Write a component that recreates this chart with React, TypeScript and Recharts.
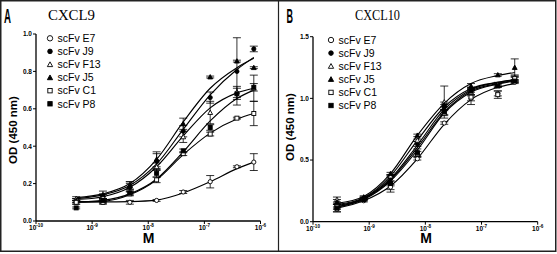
import React from 'react';
import { ComposedChart, Line, Scatter, XAxis, YAxis, ErrorBar } from 'recharts';

// ---------- shared ----------
const seriesKeys = ['E7', 'J9', 'F13', 'J5', 'C1', 'P8'];
const seriesNames = ['scFv E7', 'scFv J9', 'scFv F13', 'scFv J5', 'scFv C1', 'scFv P8'];
const markerKinds = ['circleOpen', 'circle', 'triOpen', 'tri', 'squareOpen', 'square'];
const xTicks = [1e-10, 1e-9, 1e-8, 1e-7, 1e-6];
const xTickExps = ['-10', '-9', '-8', '-7', '-6'];

// ---------- panel A : CXCL9 ----------
const concA = [5.2e-10, 1.56e-9, 4.7e-9, 1.41e-8, 4.2e-8, 1.27e-7, 3.8e-7, 7.6e-7];
const yTicksA = [0, 0.2, 0.4, 0.6, 0.8, 1.0];

const aE7 = [0.11, 0.1, 0.1, 0.11, 0.155, 0.21, 0.29, 0.315];
const aE7Err = [0.01, 0.005, 0.01, 0.005, 0.008, 0.033, 0.005, 0.045];
const aE7Fit = [0.105, 0.102, 0.104, 0.112, 0.15, 0.21, 0.28, 0.315];

const aJ9 = [0.1, 0.13, 0.18, 0.32, 0.48, 0.66, 0.8, 0.92];
const aJ9Err = [0.01, 0.015, 0.02, 0.04, 0.03, 0.03, 0.18, 0.015];
const aJ9Fit = [0.12, 0.14, 0.19, 0.305, 0.49, 0.675, 0.81, 0.875];

const aF13 = [0.12, 0.13, 0.19, 0.29, 0.45, 0.58, 0.69, 0.71];
const aF13Err = [0.01, 0.01, 0.02, 0.02, 0.03, 0.06, 0.03, 0.07];
const aF13Fit = [0.115, 0.13, 0.18, 0.29, 0.455, 0.605, 0.685, 0.71];

const aJ5 = [0.11, 0.14, 0.19, 0.33, 0.52, 0.77, 0.855, 0.82];
const aJ5Err = [0.01, 0.02, 0.02, 0.04, 0.03, 0.005, 0.005, 0.005];
const aJ5Fit = [0.125, 0.145, 0.2, 0.33, 0.53, 0.71, 0.82, 0.87];

const aC1 = [0.1, 0.1, 0.145, 0.22, 0.36, 0.465, 0.55, 0.575];
const aC1Err = [0.01, 0.01, 0.01, 0.015, 0.01, 0.01, 0.005, 0.065];
const aC1Fit = [0.1, 0.105, 0.14, 0.22, 0.355, 0.47, 0.545, 0.575];

const aP8 = [0.07, 0.11, 0.15, 0.255, 0.375, 0.5, 0.68, 0.715];
const aP8Err = [0.005, 0.01, 0.01, 0.02, 0.01, 0.015, 0.03, 0.02];
const aP8Fit = [0.1, 0.11, 0.145, 0.225, 0.37, 0.535, 0.655, 0.7];

// ---------- panel B : CXCL10 ----------
const concB = [2.67e-10, 8.0e-10, 2.4e-9, 7.2e-9, 2.17e-8, 6.5e-8, 1.95e-7, 3.9e-7];
const yTicksB = [0, 0.5, 1.0, 1.5];

const bE7 = [0.1, 0.17, 0.28, 0.51, 0.8, 1.0, 1.04, 1.13];
const bE7Err = [0.02, 0.01, 0.02, 0.01, 0.01, 0.02, 0.02, 0.01];
const bE7Fit = [0.11, 0.17, 0.29, 0.51, 0.79, 0.99, 1.09, 1.12];

const bJ9 = [0.13, 0.19, 0.35, 0.63, 0.93, 1.07, 1.11, 1.15];
const bJ9Err = [0.02, 0.01, 0.02, 0.02, 0.02, 0.02, 0.02, 0.02];
const bJ9Fit = [0.13, 0.19, 0.35, 0.62, 0.91, 1.07, 1.13, 1.15];

const bF13 = [0.18, 0.19, 0.37, 0.66, 0.97, 1.05, 1.11, 1.17];
const bF13Err = [0.02, 0.01, 0.01, 0.01, 0.13, 0.02, 0.01, 0.02];
const bF13Fit = [0.14, 0.195, 0.37, 0.66, 0.93, 1.08, 1.13, 1.15];

const bJ5 = [0.16, 0.2, 0.39, 0.7, 0.95, 1.1, 1.19, 1.25];
const bJ5Err = [0.02, 0.01, 0.01, 0.01, 0.02, 0.02, 0.01, 0.07];
const bJ5Fit = [0.15, 0.205, 0.39, 0.7, 0.96, 1.12, 1.185, 1.21];

const bC1 = [0.12, 0.18, 0.31, 0.55, 0.88, 1.01, 1.03, 1.16];
const bC1Err = [0.02, 0.01, 0.07, 0.02, 0.02, 0.06, 0.03, 0.02];
const bC1Fit = [0.12, 0.18, 0.33, 0.58, 0.88, 1.05, 1.115, 1.14];

const bP8 = [0.11, 0.18, 0.31, 0.56, 0.89, 1.06, 1.1, 1.14];
const bP8Err = [0.03, 0.01, 0.02, 0.03, 0.02, 0.03, 0.01, 0.01];
const bP8Fit = [0.12, 0.185, 0.34, 0.6, 0.89, 1.06, 1.12, 1.145];

const buildRows = (conc: number[], pts: number[][], errs: number[][], fits: number[][]) =>
  conc.map((x, i) => {
    const r: any = { x };
    seriesKeys.forEach((k, j) => {
      r[k] = pts[j][i];
      r[k + '_err'] = errs[j][i];
      r[k + '_fit'] = fits[j][i];
    });
    return r;
  });

const rowsA = buildRows(
  concA,
  [aE7, aJ9, aF13, aJ5, aC1, aP8],
  [aE7Err, aJ9Err, aF13Err, aJ5Err, aC1Err, aP8Err],
  [aE7Fit, aJ9Fit, aF13Fit, aJ5Fit, aC1Fit, aP8Fit]
);
const rowsB = buildRows(
  concB,
  [bE7, bJ9, bF13, bJ5, bC1, bP8],
  [bE7Err, bJ9Err, bF13Err, bJ5Err, bC1Err, bP8Err],
  [bE7Fit, bJ9Fit, bF13Fit, bJ5Fit, bC1Fit, bP8Fit]
);

const SANS = '"Liberation Sans", Arial, Helvetica, sans-serif';
const SERIF = '"Liberation Serif", "Times New Roman", serif';

function Marker({ kind, cx, cy, s = 2.1 }: { kind: string; cx: number; cy: number; s?: number }) {
  if (cx == null || cy == null || isNaN(cx) || isNaN(cy)) return null;
  const open = kind.endsWith('Open');
  const fill = open ? '#fff' : '#000';
  const common = { fill, stroke: '#000', strokeWidth: 0.9 };
  if (kind.startsWith('circle')) return <circle cx={cx} cy={cy} r={s} {...common} />;
  if (kind.startsWith('tri')) {
    const h = s * 1.15;
    const pts = `${cx},${cy - h} ${cx - h},${cy + h * 0.8} ${cx + h},${cy + h * 0.8}`;
    return <polygon points={pts} {...common} />;
  }
  const q = s * 0.95;
  return <rect x={cx - q} y={cy - q} width={2 * q} height={2 * q} {...common} />;
}

function XTick(props: any) {
  const { x, y, payload } = props;
  const idx = xTicks.findIndex((t) => Math.abs(Math.log10(t) - Math.log10(payload.value)) < 1e-6);
  return (
    <text x={x} y={y + 5.8} textAnchor="middle" fontSize={6.5} fontWeight="bold" fill="#000" fontFamily={SANS}>
      <tspan>10</tspan>
      <tspan dy={-2.6} fontSize={4.6}>{idx >= 0 ? xTickExps[idx] : ''}</tspan>
    </text>
  );
}

function Panel({ rows, yTicks, yDomain, margin, width }: any) {
  return (
    <ComposedChart width={width} height={254} margin={margin} data={rows}>
      <XAxis
        dataKey="x"
        type="number"
        scale="log"
        domain={[1e-10, 1e-6]}
        ticks={xTicks}
        allowDataOverflow
        interval={0}
        height={20}
        tick={<XTick />}
        tickSize={3}
        tickMargin={0}
        axisLine={{ stroke: '#000', strokeWidth: 1.3 }}
        tickLine={{ stroke: '#000', strokeWidth: 1 }}
      />
      <YAxis
        type="number"
        domain={yDomain}
        ticks={yTicks}
        allowDataOverflow
        interval={0}
        width={30}
        tickSize={3}
        tickMargin={1}
        tickFormatter={(v: number) => v.toFixed(1)}
        tick={{ fontSize: 6.5, fontWeight: 'bold', fill: '#000', fontFamily: SANS }}
        axisLine={{ stroke: '#000', strokeWidth: 1.3 }}
        tickLine={{ stroke: '#000', strokeWidth: 1 }}
      />
      {seriesKeys.map((k) => (
        <Line
          key={'l' + k}
          data={rows}
          dataKey={k + '_fit'}
          type="monotone"
          stroke="#000"
          strokeWidth={1.15}
          dot={false}
          activeDot={false}
          isAnimationActive={false}
        />
      ))}
      {seriesKeys.map((k, j) => (
        <Scatter
          key={'s' + k}
          data={rows}
          dataKey={k}
          isAnimationActive={false}
          shape={(p: any) => <Marker kind={markerKinds[j]} cx={p.cx} cy={p.cy} />}
        >
          <ErrorBar dataKey={k + '_err'} direction="y" width={4} stroke="#000" strokeWidth={0.8} />
        </Scatter>
      ))}
    </ComposedChart>
  );
}

function LegendBlock({ x, y, step }: { x: number; y: number; step: number }) {
  return (
    <g>
      {seriesNames.map((n, i) => (
        <g key={n}>
          <Marker kind={markerKinds[i]} cx={x} cy={y + i * step} s={i === 0 ? 2.7 : 2.3} />
          <text x={x + 7.5} y={y + i * step + 3.7} fontSize={10.5} fill="#000" fontFamily={SANS}>
            {n}
          </text>
        </g>
      ))}
    </g>
  );
}

export default function App() {
  return (
    <div style={{ position: 'absolute', left: 0, top: 0, width: 557, height: 254, background: '#fff' }}>
      <div style={{ position: 'absolute', left: 0, top: 0 }}>
        <Panel rows={rowsA} yTicks={yTicksA} yDomain={[0, 1]} width={278} margin={{ top: 34, right: 17.5, bottom: 13, left: 6 }} />
      </div>
      <div style={{ position: 'absolute', left: 278, top: 0 }}>
        <Panel rows={rowsB} yTicks={yTicksB} yDomain={[0, 1.5]} width={279} margin={{ top: 36.7, right: 19.3, bottom: 12.3, left: 5 }} />
      </div>
      <svg width={557} height={254} style={{ position: 'absolute', left: 0, top: 0, pointerEvents: 'none' }}>
        <rect x={0.75} y={0.75} width={555} height={250.5} fill="none" stroke="#222" strokeWidth={1.5} />
        <line x1={278.5} y1={0} x2={278.5} y2={252} stroke="#222" strokeWidth={1.2} />
        <text x={4} y={23.3} fontSize={19.5} fontWeight="bold" fontFamily={SANS} textLength={7} lengthAdjust="spacingAndGlyphs">A</text>
        <text x={286.5} y={23.3} fontSize={19.5} fontWeight="bold" fontFamily={SANS} textLength={6.5} lengthAdjust="spacingAndGlyphs">B</text>
        <text x={48} y={20} fontSize={15.5} fontFamily={SERIF} textLength={47} lengthAdjust="spacingAndGlyphs">CXCL9</text>
        <text x={355} y={20} fontSize={15.5} fontFamily={SERIF} textLength={45} lengthAdjust="spacingAndGlyphs">CXCL10</text>
        <text transform="translate(17,130) rotate(-90)" textAnchor="middle" fontSize={11.5} fontWeight="bold" fontFamily={SANS}>OD (450 nm)</text>
        <text transform="translate(294,127) rotate(-90)" textAnchor="middle" fontSize={11.5} fontWeight="bold" fontFamily={SANS}>OD (450 nm)</text>
        <text x={148.5} y={243} textAnchor="middle" fontSize={14} fontWeight="bold" fontFamily={SANS}>M</text>
        <text x={426} y={243} textAnchor="middle" fontSize={14} fontWeight="bold" fontFamily={SANS}>M</text>
        <LegendBlock x={50} y={38.3} step={13.1} />
        <LegendBlock x={331} y={40} step={13.1} />
      </svg>
    </div>
  );
}
